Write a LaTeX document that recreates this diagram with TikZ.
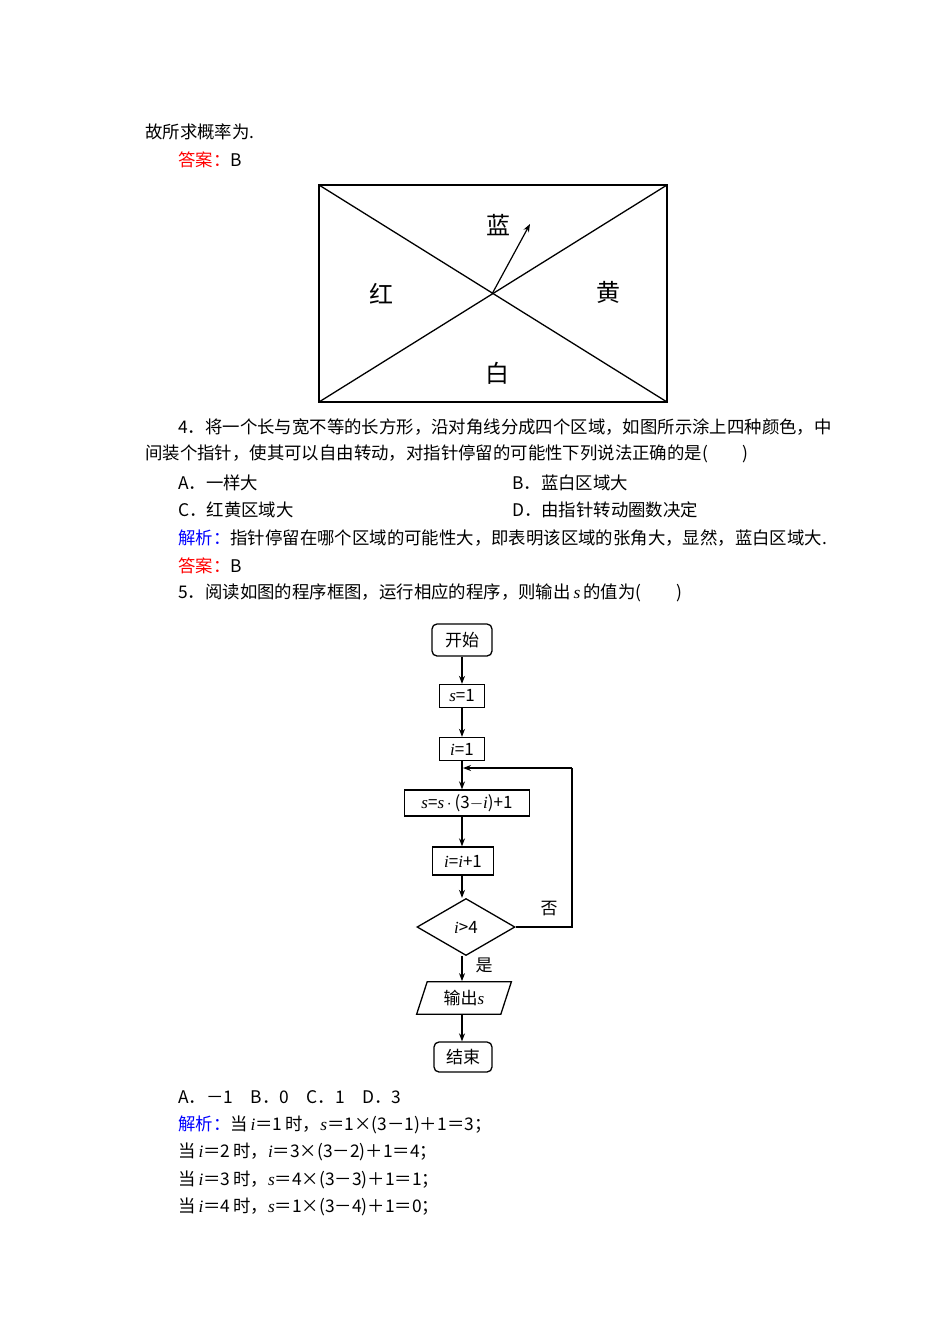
\documentclass[tikz,border=0pt]{standalone}
\usepackage{fontspec}
\setmainfont{Noto Sans CJK SC}
\newfontfamily\serifit{Liberation Serif}
\newcommand{\vi}[1]{{\serifit\itshape #1}}
\usetikzlibrary{shapes.geometric,arrows.meta}
\begin{document}
\begin{tikzpicture}[x=1pt,y=-1pt,
  txt/.style={anchor=west,inner sep=0pt,font=\fontsize{17.4}{17}\selectfont},
  lab/.style={font=\fontsize{24}{24}\selectfont,inner sep=0pt},
  fbox/.style={draw,line width=1.3pt,minimum height=23pt,inner sep=2pt,font=\fontsize{17}{17}\selectfont},
  arr/.style={-{Stealth[length=8pt,width=6pt]},line width=1.2pt}]
\useasboundingbox[fill=white] (0,0) rectangle (950,1344);
\node[txt] (t1) at (145,132) {故所求概率为.};
\node[txt] (t2) at (178,160) {\textcolor{red}{答案：}B};
% rectangle figure
\draw[line width=1.5pt] (319,185) rectangle (667,402);
\coordinate (c) at (492,294);
\draw[line width=1.3pt] (319,185) -- (667,402);
\draw[line width=1.3pt] (319,402) -- (667,185);
\coordinate (tip) at (530,224);
\draw[arr] (c) -- (tip);
\node[lab] (blue) at (498,225) {蓝};
\node[lab] (red) at (381,294) {红};
\node[lab] (yel) at (608,292) {黄};
\node[lab] (wht) at (497,373) {白};
\node[txt] (t3) at (178,427) {4．将一个长与宽不等的长方形，沿对角线分成四个区域，如图所示涂上四种颜色，中};
\node[txt] (t4) at (145,454) {间装个指针，使其可以自由转动，对指针停留的可能性下列说法正确的是(\hspace{2em})};
\node[txt] (t5) at (178,483) {A．一样大};
\node[txt] (t6) at (512,483) {B．蓝白区域大};
\node[txt] (t7) at (178,510) {C．红黄区域大};
\node[txt] (t8) at (512,510) {D．由指针转动圈数决定};
\node[txt] (t9) at (178,538) {\textcolor{blue}{解析：}指针停留在哪个区域的可能性大，即表明该区域的张角大，显然，蓝白区域大.};
\node[txt] (t10) at (178,566) {\textcolor{red}{答案：}B};
\node[txt] (t11) at (178,593) {5．阅读如图的程序框图，运行相应的程序，则输出\,\vi{s}\,的值为(\hspace{2em})};
% flowchart
\node[fbox,rounded corners=5pt,minimum width=60pt,minimum height=32pt] (st) at (462,640) {开始};
\node[fbox,minimum width=45pt] (s1) at (462,696) {\vi{s}=1};
\node[fbox,minimum width=45pt] (i1) at (462,749) {\vi{i}=1};
\node[fbox,minimum width=125pt,minimum height=26pt] (up) at (467,803) {\vi{s}=\vi{s}\,$\cdot$\,(3$-$\vi{i})+1};
\node[fbox,minimum width=61pt,minimum height=28pt] (inc) at (463,861) {\vi{i}=\vi{i}+1};
\node[draw,line width=1.3pt,diamond,aspect=1.75,minimum width=98pt,minimum height=57pt,inner sep=0pt,font=\fontsize{17}{17}\selectfont] (dec) at (466,927) {\vi{i}>4};
\node[draw,line width=1.3pt,trapezium,trapezium left angle=72,trapezium right angle=108,minimum width=95pt,minimum height=30pt,inner sep=2pt,font=\fontsize{17}{17}\selectfont] (out) at (464,998) {输出\vi{s}};
\node[fbox,rounded corners=5pt,minimum width=58pt,minimum height=30pt] (en) at (463,1057) {结束};
\draw[arr] (st) -- (st|-s1.north);
\draw[arr] (s1) -- (s1|-i1.north);
\draw[arr] (i1.south) -- (i1.south|-up.north);
\draw[arr] (i1.south|-up.south) -- (i1.south|-inc.north);
\draw[arr] (i1.south|-inc.south) -- (i1.south|-dec.north);
\draw[arr] (i1.south|-dec.south) -- (i1.south|-out.north);
\draw[arr] (i1.south|-out.south) -- (i1.south|-en.north);
\coordinate (r1) at (572,927);
\coordinate (r2) at (572,768);
\coordinate (r3) at (463,768);
\draw[line width=1.2pt] (dec.east) -- (r1) -- (r2);
\draw[arr] (r2) -- (r3);
\node[font=\fontsize{17}{17}\selectfont] (no) at (549,909) {否};
\node[font=\fontsize{17}{17}\selectfont] (yes) at (484,965) {是};
\node[txt] (t12) at (178,1097) {A．－1\quad B．0\quad C．1\quad D．3};
\node[txt] (t13) at (178,1125) {\textcolor{blue}{解析：}当\,\vi{i}＝1\,时，\vi{s}＝1×(3－1)＋1＝3；};
\node[txt] (t14) at (178,1152) {当\,\vi{i}＝2\,时，\vi{i}＝3×(3－2)＋1＝4；};
\node[txt] (t15) at (178,1180) {当\,\vi{i}＝3\,时，\vi{s}＝4×(3－3)＋1＝1；};
\node[txt] (t16) at (178,1207) {当\,\vi{i}＝4\,时，\vi{s}＝1×(3－4)＋1＝0；};
\end{tikzpicture}
\end{document}
